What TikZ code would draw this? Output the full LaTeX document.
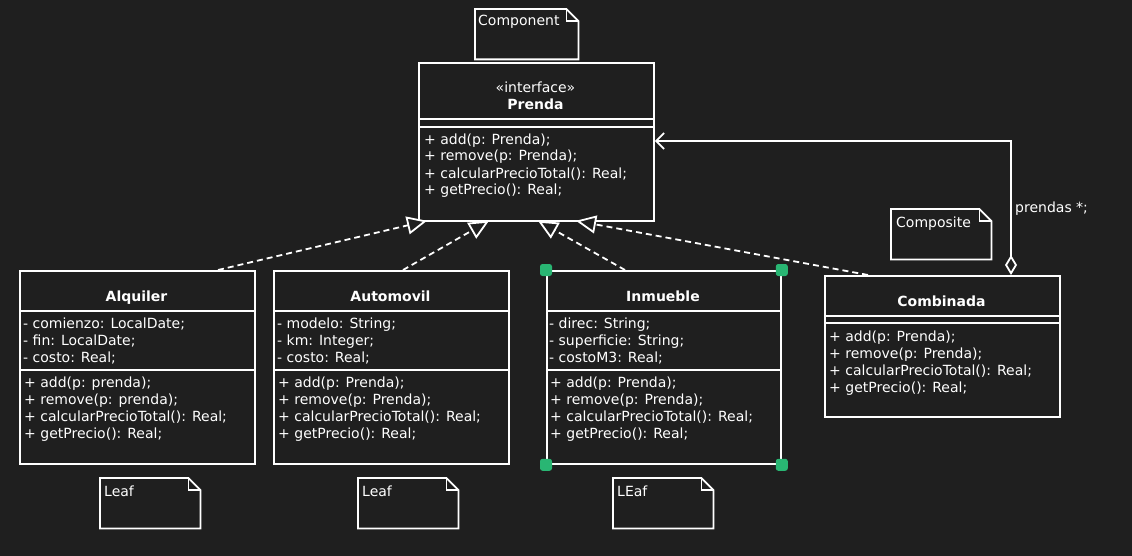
\documentclass[tikz,border=0pt]{standalone}
\usepackage{fontspec}
\setmainfont{DejaVu Sans}
\usetikzlibrary{arrows.meta}
\definecolor{bg}{RGB}{31,31,31}
\definecolor{handle}{RGB}{41,182,115}
\begin{document}
\begin{tikzpicture}[x=1pt,y=-1pt,
 every node/.style={text=white},
 umlbox/.style={draw=white,line width=1.8pt,fill=bg,anchor=north west,inner sep=0pt},
 notebox/.style={anchor=north west,inner sep=0pt,draw=none},
 txt/.style={font=\fontsize{14}{17}\selectfont,align=left,anchor=base west,inner sep=0pt},
 ttl/.style={font=\fontsize{14}{17}\selectfont\bfseries,anchor=base,inner sep=0pt},
 plain/.style={font=\fontsize{14}{17}\selectfont,anchor=base,inner sep=0pt},
 sepline/.style={draw=white,line width=1.8pt},
 realize/.style={draw=white,line width=1.8pt,dash pattern=on 6pt off 4pt,-{Triangle[length=20pt,width=18pt,fill=bg]}},
 agg/.style={draw=white,line width=1.8pt,{Diamond[length=20pt,width=12pt,fill=bg]}-{Straight Barb[length=8pt,width=16pt]}},
 handlebox/.style={fill=handle,rounded corners=2.5pt,minimum size=12pt,inner sep=0pt}]
\fill[bg] (0,0) rectangle (1132,556);
\useasboundingbox (0,0) rectangle (1132,556);

% ---------- Prenda (multi-line nodes: base = last line)
\node[umlbox,minimum width=235pt,minimum height=158pt] (prenda) at (418,62) {};
\draw[sepline] (418,119) -- (653,119);
\draw[sepline] (418,127) -- (653,127);
\node[plain] (pst) at (535.5,93) {«interface»};
\node[ttl] (pname) at (535.5,110) {Prenda};
\node[txt] (pmeth) at (424,195) {+ add(p: Prenda);\\+ remove(p: Prenda);\\+ calcularPrecioTotal(): Real;\\+ getPrecio(): Real;};

% ---------- Alquiler
\node[umlbox,minimum width=235pt,minimum height=193pt] (alq) at (19,270) {};
\draw[sepline] (19,311) -- (254,311);
\draw[sepline] (19,370) -- (254,370);
\node[ttl] (alqn) at (136.5,301) {Alquiler};
\node[txt] (alqa) at (23,362) {- comienzo: LocalDate;\\- fin: LocalDate;\\- costo: Real;};
\node[txt] (alqm) at (24,438) {+ add(p: prenda);\\+ remove(p: prenda);\\+ calcularPrecioTotal(): Real;\\+ getPrecio(): Real;};

% ---------- Automovil
\node[umlbox,minimum width=235pt,minimum height=193pt] (auto) at (273,270) {};
\draw[sepline] (273,311) -- (508,311);
\draw[sepline] (273,370) -- (508,370);
\node[ttl] (auton) at (390.5,301) {Automovil};
\node[txt] (autoa) at (277,362) {- modelo: String;\\- km: Integer;\\- costo: Real;};
\node[txt] (autom) at (278,438) {+ add(p: Prenda);\\+ remove(p: Prenda);\\+ calcularPrecioTotal(): Real;\\+ getPrecio(): Real;};

% ---------- Inmueble
\node[umlbox,minimum width=234pt,minimum height=193pt] (inm) at (546,270) {};
\draw[sepline] (546,311) -- (780,311);
\draw[sepline] (546,370) -- (780,370);
\node[ttl] (inmn) at (663,301) {Inmueble};
\node[txt] (inma) at (549,362) {- direc: String;\\- superficie: String;\\- costoM3: Real;};
\node[txt] (inmm) at (550,438) {+ add(p: Prenda);\\+ remove(p: Prenda);\\+ calcularPrecioTotal(): Real;\\+ getPrecio(): Real;};
\node[handlebox] (h1) at (inm.north west) {};
\node[handlebox] (h2) at (inm.north east) {};
\node[handlebox] (h3) at (inm.south west) {};
\node[handlebox] (h4) at (inm.south east) {};

% ---------- Combinada
\node[umlbox,minimum width=235pt,minimum height=141pt] (comb) at (824,275) {};
\draw[sepline] (824,316) -- (1059,316);
\draw[sepline] (824,323) -- (1059,323);
\node[ttl] (combn) at (941.5,306) {Combinada};
\node[txt] (combm) at (829,392) {+ add(p: Prenda);\\+ remove(p: Prenda);\\+ calcularPrecioTotal(): Real;\\+ getPrecio(): Real;};

% ---------- notes
\newcommand{\umlnote}[1]{%
  \draw[white,line width=1.8pt] (#1.north west) -- ([xshift=-12pt]#1.north east) -- ([yshift=-12pt]#1.north east) -- (#1.south east) -- (#1.south west) -- cycle;
  \draw[white,line width=1.8pt] ([xshift=-12pt]#1.north east) -- ([xshift=-12pt,yshift=-12pt]#1.north east) -- ([yshift=-12pt]#1.north east);}
\node[notebox,minimum width=103pt,minimum height=50pt] (ncomp) at (475,9) {};
\umlnote{ncomp}
\node[txt] (ncompt) at (478,26) {Component};
\node[notebox,minimum width=100pt,minimum height=50pt] (ncmp) at (891,209) {};
\umlnote{ncmp}
\node[txt] (ncmpt) at (896,227) {Composite};
\node[notebox,minimum width=100pt,minimum height=50pt] (nl1) at (100,478) {};
\umlnote{nl1}
\node[txt] (nl1t) at (104,496) {Leaf};
\node[notebox,minimum width=100pt,minimum height=50pt] (nl2) at (358,478) {};
\umlnote{nl2}
\node[txt] (nl2t) at (362,496) {Leaf};
\node[notebox,minimum width=100pt,minimum height=50pt] (nl3) at (613,478) {};
\umlnote{nl3}
\node[txt] (nl3t) at (617,496) {LEaf};

% ---------- connectors
\draw[realize] ([xshift=199pt]alq.north west) -- ([xshift=9pt,yshift=1pt]prenda.south west);
\draw[realize] ([xshift=130pt]auto.north west) -- ([xshift=71pt,yshift=1pt]prenda.south west);
\draw[realize] ([xshift=79pt]inm.north west) -- ([xshift=120pt,yshift=1pt]prenda.south west);
\draw[realize] ([xshift=44pt]comb.north west) -- ([xshift=158pt,yshift=1pt]prenda.south west);
\draw[agg] ([xshift=187pt]comb.north west) |- ([yshift=-79pt]prenda.north east);
\node[plain,anchor=base west] (lbl) at (1015,213) {prendas *;};
\end{tikzpicture}
\end{document}
